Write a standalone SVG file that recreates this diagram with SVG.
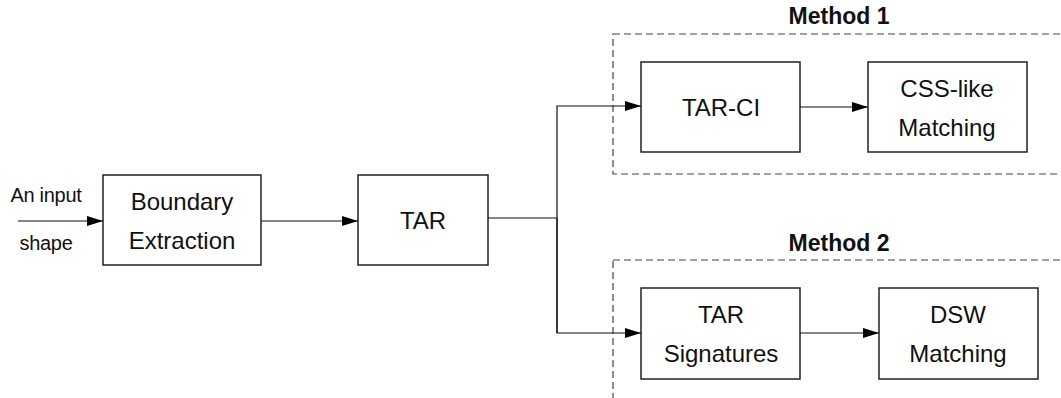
<svg xmlns="http://www.w3.org/2000/svg" width="1061" height="398" viewBox="0 0 1061 398">
<style>
.box{fill:#fff;stroke:#222;stroke-width:1.5}
.grp{fill:none;stroke:#444;stroke-width:1.2;stroke-dasharray:7 4}
.ln{fill:none;stroke:#111;stroke-width:1.2}
.t{font-family:"Liberation Sans",Arial,sans-serif;font-size:24px;fill:#111;text-anchor:middle}
.s{font-family:"Liberation Sans",Arial,sans-serif;font-size:20px;fill:#111;text-anchor:middle;letter-spacing:-0.3px}
.h{font-family:"Liberation Sans",Arial,sans-serif;font-size:23px;font-weight:bold;fill:#111;text-anchor:middle}
</style>
<defs>
<marker id="arr" markerWidth="16" markerHeight="10" refX="16" refY="5" orient="auto" markerUnits="userSpaceOnUse">
<path d="M0,0 L16,5 L0,10 Z" fill="#000"/>
</marker>
</defs>
<rect width="1061" height="398" fill="#fff"/>
<g id="method1">
<rect class="grp" x="613" y="34" width="460" height="140"/>
<text class="h" x="839" y="24">Method 1</text>
</g>
<g id="method2">
<rect class="grp" x="613" y="260" width="460" height="160"/>
<text class="h" x="839" y="251">Method 2</text>
</g>
<g id="input">
<text class="s" x="46" y="202">An input</text>
<text class="s" x="46" y="250">shape</text>
</g>
<g id="boundary">
<rect class="box" x="103" y="175" width="158" height="90"/>
<text class="t" x="182" y="210">Boundary</text>
<text class="t" x="182" y="249">Extraction</text>
</g>
<g id="tar">
<rect class="box" x="358" y="175" width="130" height="90"/>
<text class="t" x="423" y="229">TAR</text>
</g>
<g id="tarci">
<rect class="box" x="641" y="62" width="159" height="90"/>
<text class="t" x="721" y="116">TAR-CI</text>
</g>
<g id="csslike">
<rect class="box" x="868" y="62" width="159" height="90"/>
<text class="t" x="947" y="97">CSS-like</text>
<text class="t" x="947" y="136">Matching</text>
</g>
<g id="tarsig">
<rect class="box" x="641" y="288" width="159" height="91"/>
<text class="t" x="721" y="323">TAR</text>
<text class="t" x="721" y="362">Signatures</text>
</g>
<g id="dsw">
<rect class="box" x="879" y="288" width="159" height="91"/>
<text class="t" x="958" y="323">DSW</text>
<text class="t" x="958" y="362">Matching</text>
</g>
<g id="connectors">
<line class="ln" x1="18" y1="221" x2="103" y2="221" marker-end="url(#arr)"/>
<line class="ln" x1="261" y1="221" x2="358" y2="221" marker-end="url(#arr)"/>
<polyline class="ln" points="488,218 557,218"/>
<polyline class="ln" points="557,333 557,106 641,106" marker-end="url(#arr)"/>
<polyline class="ln" points="557,218 557,333 641,333" marker-end="url(#arr)"/>
<line class="ln" x1="800" y1="107" x2="868" y2="107" marker-end="url(#arr)"/>
<line class="ln" x1="800" y1="333" x2="879" y2="333" marker-end="url(#arr)"/>
</g>
</svg>
